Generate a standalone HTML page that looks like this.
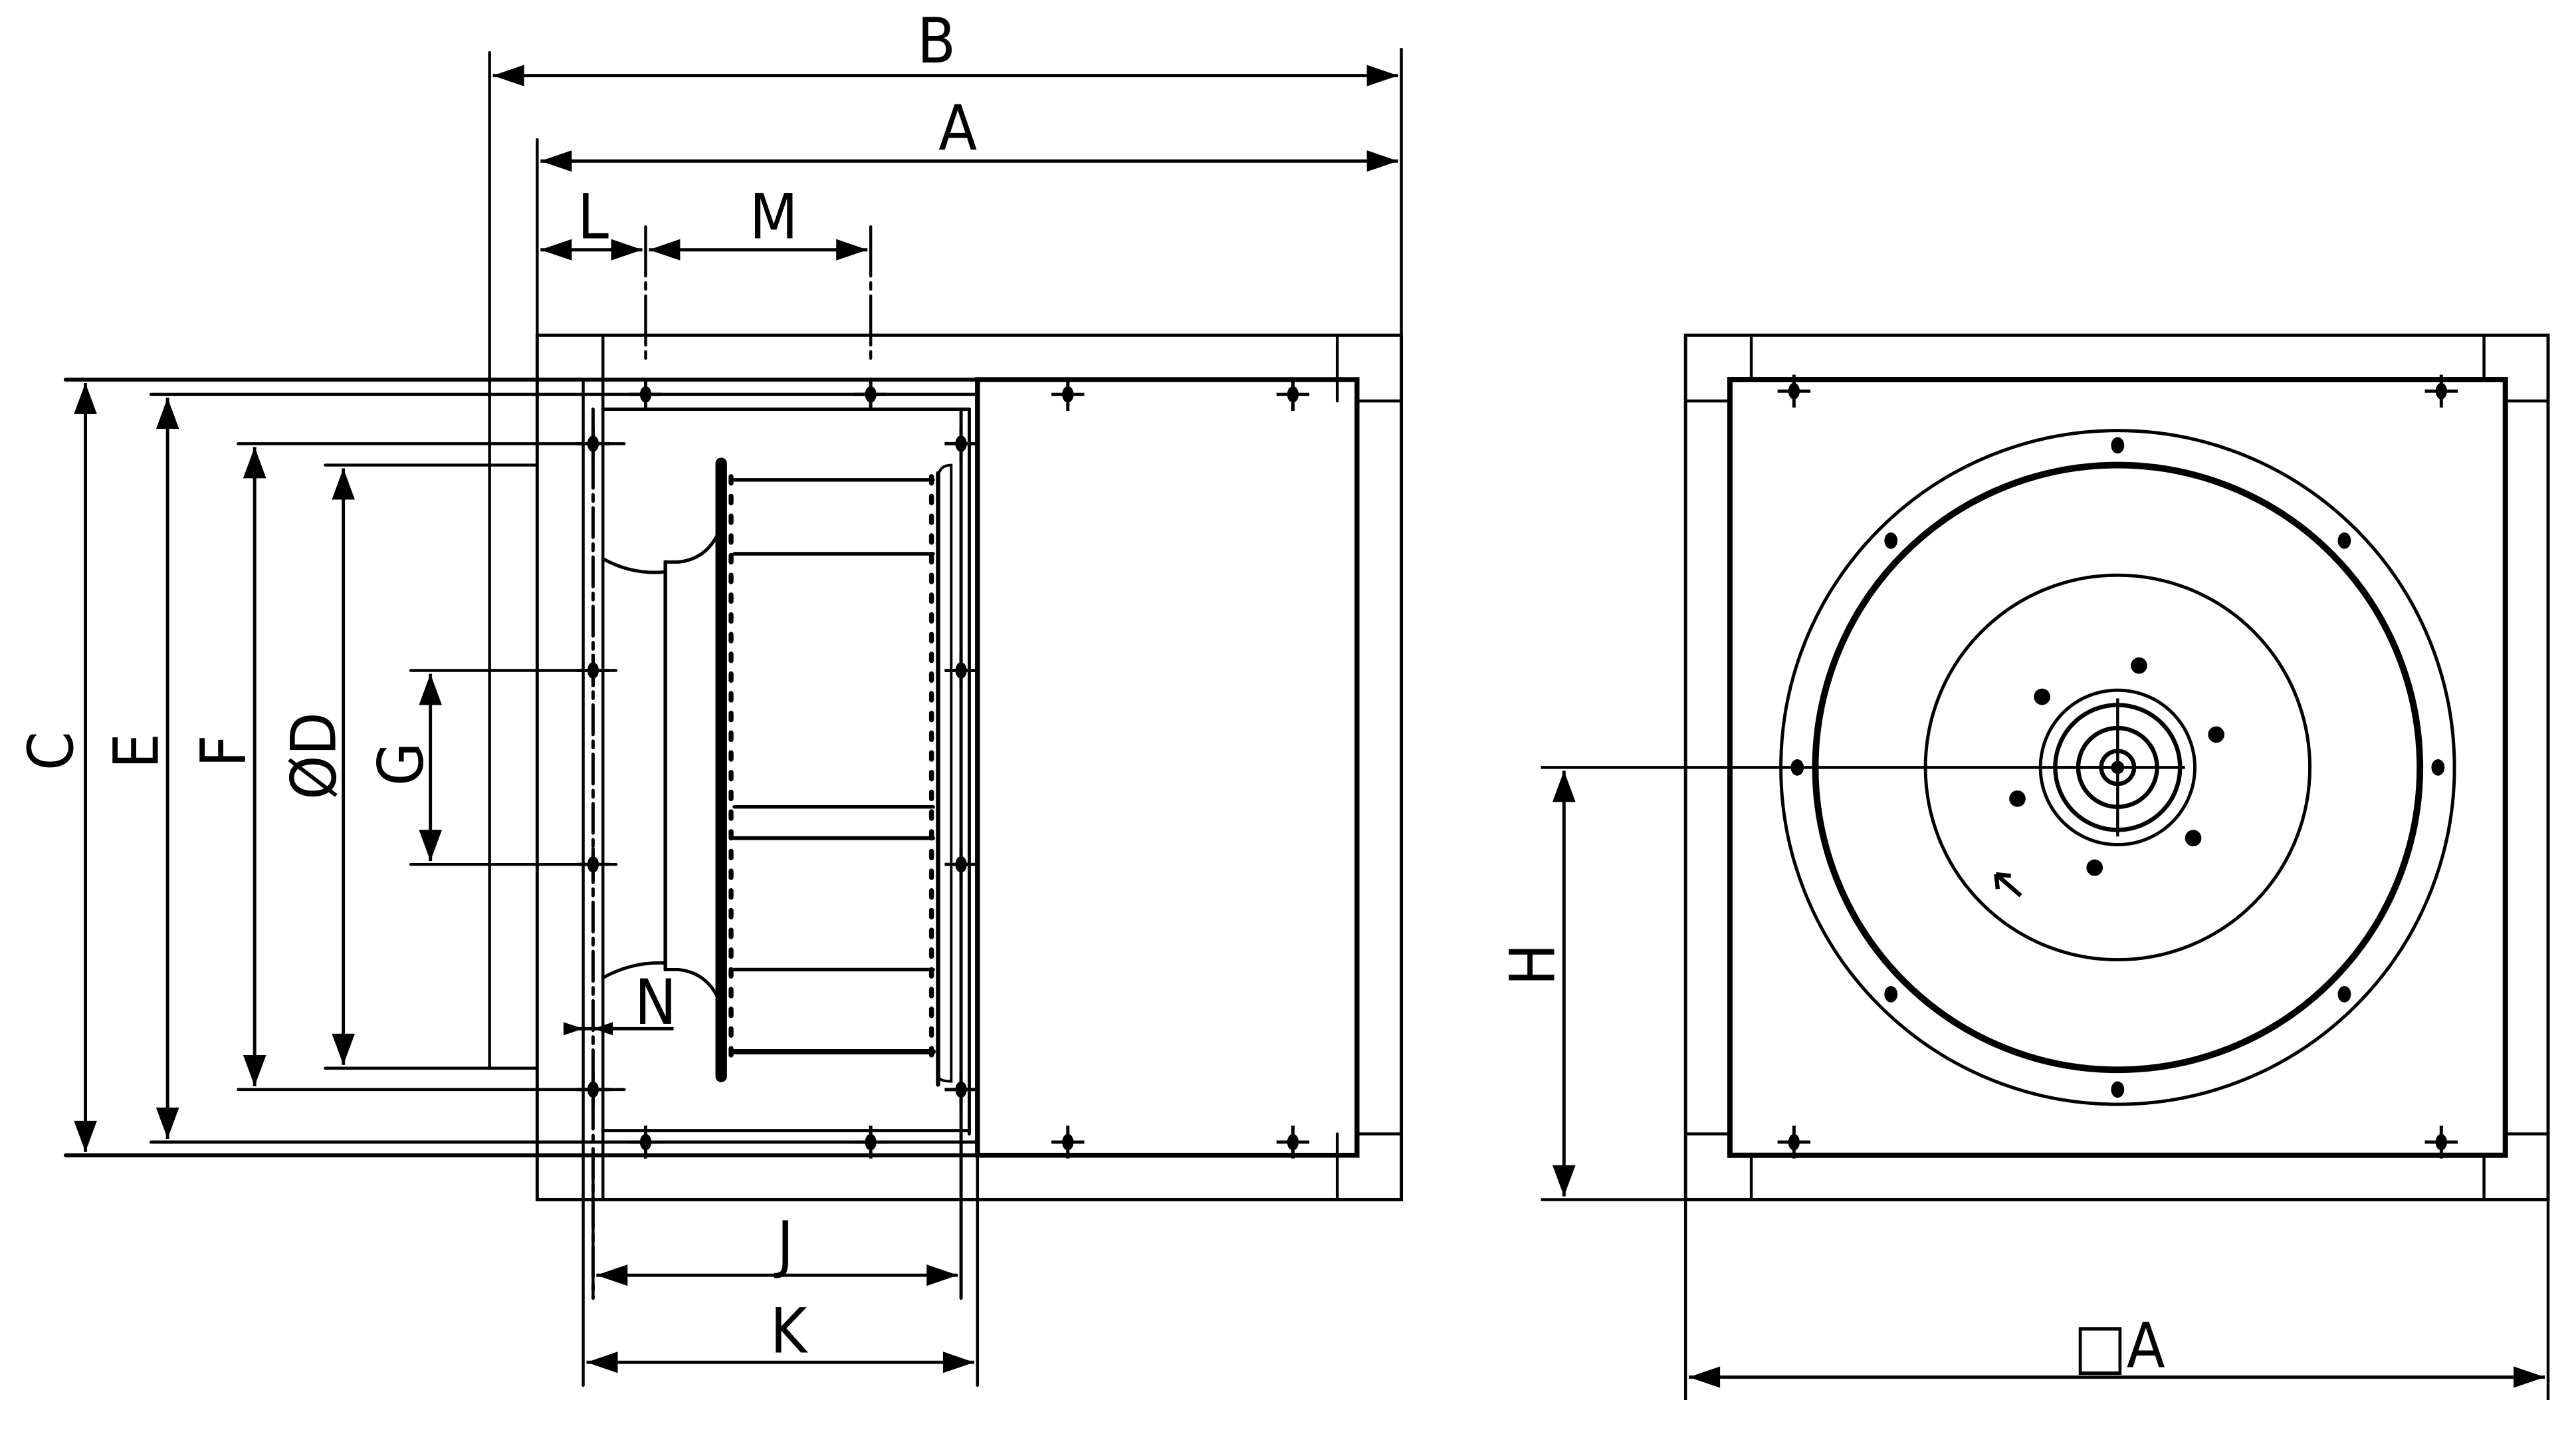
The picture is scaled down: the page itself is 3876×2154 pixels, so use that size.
<!DOCTYPE html>
<html><head><meta charset="utf-8"><style>
html,body{margin:0;padding:0;background:#fff;}
svg{display:block;}
text{font-family:"DejaVu Sans Condensed","Liberation Sans",sans-serif;font-size:38px;fill:#000;}
</style></head><body>
<svg width="3876" height="2154" viewBox="0 0 1568 871.4" preserveAspectRatio="none" xmlns="http://www.w3.org/2000/svg">
<defs>
<g id="bolt"><line x1="-10" y1="0" x2="10" y2="0" stroke="#000" stroke-width="2"/><line x1="0" y1="-10" x2="0" y2="10" stroke="#000" stroke-width="2"/><ellipse cx="0" cy="0" rx="3.5" ry="5" fill="#000"/></g>
</defs>
<g stroke="#000" stroke-width="1.8" fill="none" stroke-linecap="round">
<line x1="298" y1="32" x2="298" y2="650"/>
<line x1="853" y1="30" x2="853" y2="204"/>
<line x1="327" y1="85" x2="327" y2="204"/>
<line x1="393" y1="138" x2="393" y2="222" stroke-dasharray="30 4 4 4"/>
<line x1="530" y1="138" x2="530" y2="222" stroke-dasharray="30 4 4 4"/>
<rect x="327" y="204" width="526" height="526" stroke-width="2"/>
<line x1="367" y1="204" x2="367" y2="730"/>
<line x1="814" y1="204" x2="814" y2="244"/>
<line x1="814" y1="690" x2="814" y2="730"/>
<line x1="826" y1="244" x2="853" y2="244"/>
<line x1="826" y1="690" x2="853" y2="690"/>
<line x1="298" y1="283" x2="327" y2="283"/>
<line x1="298" y1="650" x2="327" y2="650"/>
<line x1="40" y1="231" x2="595" y2="231" stroke-width="2.4"/>
<line x1="40" y1="703" x2="595" y2="703" stroke-width="2.4"/>
<line x1="92" y1="240" x2="595" y2="240" stroke-width="2"/>
<line x1="92" y1="695" x2="595" y2="695" stroke-width="2"/>
<line x1="367" y1="249" x2="590" y2="249" stroke-width="2"/>
<line x1="367" y1="688" x2="590" y2="688" stroke-width="2"/>
<line x1="145" y1="270" x2="380" y2="270"/>
<line x1="145" y1="663" x2="380" y2="663"/>
<line x1="198" y1="283" x2="298" y2="283"/>
<line x1="198" y1="650" x2="298" y2="650"/>
<line x1="250" y1="408" x2="375" y2="408"/>
<line x1="250" y1="526" x2="375" y2="526"/>
<line x1="355" y1="231" x2="355" y2="843"/>
<line x1="361" y1="249" x2="361" y2="790" stroke-dasharray="18 4 4 4" stroke-width="2"/>
<line x1="585" y1="249" x2="585" y2="790" stroke-width="2"/>
<line x1="590" y1="249" x2="590" y2="690" stroke-width="2"/>
<line x1="595" y1="703" x2="595" y2="843"/>
<line x1="361" y1="703" x2="361" y2="790"/>
<rect x="595" y="231" width="231" height="472" stroke-width="3"/>
<!-- fan -->
<path d="M367 340 Q385 350 405 348 L405 342 L413 342 Q432 340 439 320" stroke-width="2"/>
<path d="M367 595 Q385 585 405 586 L405 590 L413 590 Q432 592 439 612" stroke-width="2"/>
<line x1="405" y1="342" x2="405" y2="590" stroke-width="2.2"/>
<line x1="439" y1="282" x2="439" y2="655" stroke-width="7"/>
<line x1="445" y1="290" x2="445" y2="650" stroke-width="3" stroke-dasharray="4 8"/>
<line x1="447" y1="292" x2="568" y2="292" stroke-width="2.2"/>
<line x1="447" y1="337" x2="568" y2="337" stroke-width="2.2"/>
<line x1="447" y1="491" x2="568" y2="491" stroke-width="2.2"/>
<line x1="447" y1="510" x2="568" y2="510" stroke-width="2.4"/>
<line x1="447" y1="590" x2="568" y2="590" stroke-width="2.2"/>
<line x1="447" y1="640" x2="568" y2="640" stroke-width="3.2"/>
<line x1="567" y1="290" x2="567" y2="650" stroke-width="3" stroke-dasharray="4 8"/>
<line x1="571" y1="288" x2="571" y2="660" stroke-width="2.6"/>
<path d="M571 290 Q572 283 579 283 L579 658 Q572 658 571 655" stroke-width="1.6"/>
</g>
<use href="#bolt" x="393" y="240"/><use href="#bolt" x="530" y="240"/>
<use href="#bolt" x="650" y="240"/><use href="#bolt" x="787" y="240"/>
<use href="#bolt" x="393" y="695"/><use href="#bolt" x="530" y="695"/>
<use href="#bolt" x="650" y="695"/><use href="#bolt" x="787" y="695"/>
<use href="#bolt" x="361" y="270"/><use href="#bolt" x="361" y="408"/>
<use href="#bolt" x="361" y="526"/><use href="#bolt" x="361" y="663"/>
<use href="#bolt" x="585" y="270"/><use href="#bolt" x="585" y="408"/>
<use href="#bolt" x="585" y="526"/><use href="#bolt" x="585" y="663"/>

<g stroke="#000" stroke-width="2">
<line x1="300" y1="46" x2="851" y2="46"/>
<line x1="329" y1="98" x2="851" y2="98"/>
<line x1="329" y1="152" x2="391" y2="152"/>
<line x1="395" y1="152" x2="528" y2="152"/>
<line x1="52" y1="233" x2="52" y2="701"/>
<line x1="102" y1="242" x2="102" y2="693"/>
<line x1="155" y1="272" x2="155" y2="661"/>
<line x1="209" y1="285" x2="209" y2="648"/>
<line x1="262" y1="410" x2="262" y2="524"/>
<line x1="363" y1="776" x2="583" y2="776"/>
<line x1="357" y1="829" x2="593" y2="829"/>
<line x1="952" y1="469" x2="952" y2="728"/>
<line x1="1028" y1="838" x2="1549" y2="838"/>
<line x1="343" y1="626" x2="410" y2="626"/>
</g>
<g fill="#000">
<polygon points="300,46 319,39.5 319,52.5"/><polygon points="851,46 832,39.5 832,52.5"/>
<polygon points="329,98 348,91.5 348,104.5"/><polygon points="851,98 832,91.5 832,104.5"/>
<polygon points="329,152 348,145.5 348,158.5"/><polygon points="391,152 372,145.5 372,158.5"/>
<polygon points="395,152 414,145.5 414,158.5"/><polygon points="528,152 509,145.5 509,158.5"/>
<polygon points="363,776 382,769.5 382,782.5"/><polygon points="583,776 564,769.5 564,782.5"/>
<polygon points="357,829 376,822.5 376,835.5"/><polygon points="593,829 574,822.5 574,835.5"/>
<polygon points="1028,838 1047,831.5 1047,844.5"/><polygon points="1549,838 1530,831.5 1530,844.5"/>
<polygon points="355,626 343,622 343,630"/><polygon points="361,626 373,622 373,630"/>
<polygon points="52,233 45,252 59,252"/><polygon points="52,701 45,682 59,682"/>
<polygon points="102,242 95,261 109,261"/><polygon points="102,693 95,674 109,674"/>
<polygon points="155,272 148,291 162,291"/><polygon points="155,661 148,642 162,642"/>
<polygon points="209,285 202,304 216,304"/><polygon points="209,648 202,629 216,629"/>
<polygon points="262,410 255,429 269,429"/><polygon points="262,524 255,505 269,505"/>
<polygon points="952,469 945,488 959,488"/><polygon points="952,728 945,709 959,709"/>
</g>
<text x="570" y="38" text-anchor="middle">B</text>
<text x="583" y="91" text-anchor="middle">A</text>
<text x="361" y="145" text-anchor="middle">L</text>
<text x="471" y="145" text-anchor="middle">M</text>
<text x="478" y="770" text-anchor="middle">J</text>
<text x="480" y="823" text-anchor="middle">K</text>
<text x="399" y="623" text-anchor="middle" font-size="34">N</text>
<text transform="translate(44,457) rotate(-90)" text-anchor="middle">C</text>
<text transform="translate(96,457) rotate(-90)" text-anchor="middle">E</text>
<text transform="translate(149,457) rotate(-90)" text-anchor="middle">F</text>
<text transform="translate(204,460) rotate(-90)" text-anchor="middle">ØD</text>
<text transform="translate(257,465) rotate(-90)" text-anchor="middle">G</text>
<text transform="translate(946,587) rotate(-90)" text-anchor="middle">H</text>
<text x="1290" y="832" text-anchor="middle">□A</text>

<g stroke="#000" stroke-width="1.8" fill="none">
<line x1="938" y1="467" x2="1289" y2="467"/>
<line x1="938" y1="730" x2="1026" y2="730"/>
<line x1="1026" y1="730" x2="1026" y2="852"/>
<line x1="1551" y1="730" x2="1551" y2="852"/>
<rect x="1026" y="204" width="525" height="526" stroke-width="2"/>
<line x1="1066" y1="204" x2="1066" y2="231"/>
<line x1="1512" y1="204" x2="1512" y2="231"/>
<line x1="1066" y1="703" x2="1066" y2="730"/>
<line x1="1512" y1="703" x2="1512" y2="730"/>
<line x1="1026" y1="244" x2="1053" y2="244"/>
<line x1="1525" y1="244" x2="1551" y2="244"/>
<line x1="1026" y1="690" x2="1053" y2="690"/>
<line x1="1525" y1="690" x2="1551" y2="690"/>
<rect x="1053" y="231" width="472" height="472" stroke-width="3.2"/>
<circle cx="1289" cy="467" r="205" stroke-width="2"/>
<circle cx="1289" cy="467" r="184" stroke-width="4"/>
<circle cx="1289" cy="467" r="117" stroke-width="2"/>
<circle cx="1289" cy="467" r="47" stroke-width="2"/>
<circle cx="1289" cy="467" r="38" stroke-width="2.6"/>
<circle cx="1289" cy="467" r="24" stroke-width="2.6"/>
<circle cx="1289" cy="467" r="10" stroke-width="2.6"/>
<line x1="1289" y1="425" x2="1289" y2="509"/>
<line x1="1250" y1="467" x2="1330" y2="467"/>
<path d="M1230 545 L1215 532 M1215 532 L1216 541 M1215 532 L1224 533" stroke-width="2.6"/>
</g>
<g fill="#000">
<ellipse cx="1289" cy="271" rx="4" ry="5"/><ellipse cx="1289" cy="663" rx="4" ry="5"/>
<ellipse cx="1094" cy="467" rx="4" ry="5"/><ellipse cx="1484" cy="467" rx="4" ry="5"/>
<ellipse cx="1151" cy="329" rx="4" ry="5"/><ellipse cx="1427" cy="329" rx="4" ry="5"/>
<ellipse cx="1151" cy="605" rx="4" ry="5"/><ellipse cx="1427" cy="605" rx="4" ry="5"/>
<circle cx="1302" cy="405" r="5"/><circle cx="1243" cy="424" r="5"/>
<circle cx="1349" cy="447" r="5"/><circle cx="1228" cy="486" r="5"/>
<circle cx="1335" cy="510" r="5"/><circle cx="1275" cy="528" r="5"/>
<circle cx="1289" cy="467" r="4"/>
</g>
<use href="#bolt" x="1092" y="238"/><use href="#bolt" x="1486" y="238"/>
<use href="#bolt" x="1092" y="695"/><use href="#bolt" x="1486" y="695"/>
</svg>
</body></html>
